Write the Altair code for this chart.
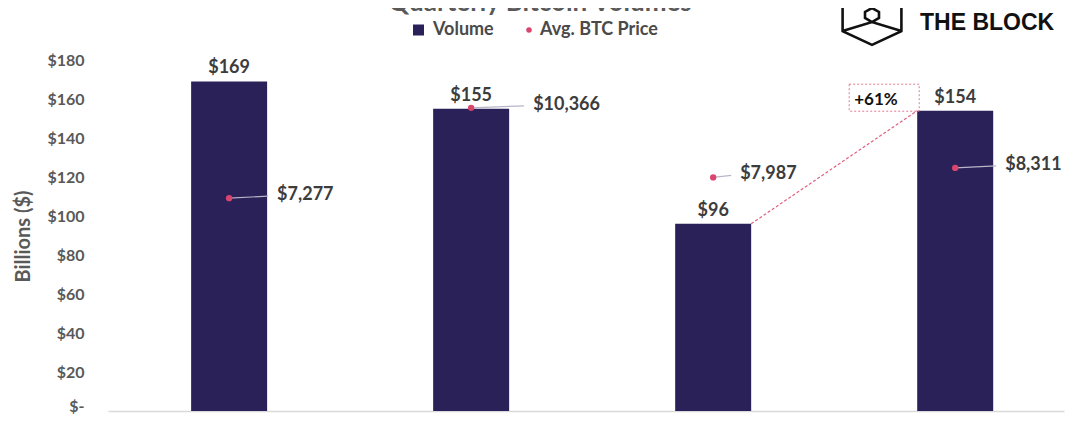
import altair as alt
import pandas as pd

# ---- data ----
quarters = ["Q2 2019", "Q3 2019", "Q4 2019", "Q1 2020"]
volumes = [169, 155, 96, 154]            # billions of $
prices = [7277, 10366, 7987, 8311]        # avg BTC price, $
volume_labels = ["$169", "$155", "$96", "$154"]
price_labels = ["$7,277", "$10,366", "$7,987", "$8,311"]
y_ticks = [0, 20, 40, 60, 80, 100, 120, 140, 160, 180]
change_label = "+61%"

# ---- layout of the price call-outs (pixel gap dot -> label) ----
label_gap = [48, 62, 27, 50]

NAVY = "#2a2158"
PINK = "#d9456c"
GREY = "#595959"
DARK = "#3c3c3c"
FONT = "Lato"

df = pd.DataFrame({
    "quarter": quarters,
    "volume": volumes,
    "price": prices,
    "vlabel": volume_labels,
    "plabel": price_labels,
})

xscale = alt.Scale(domain=quarters, paddingInner=0.686, paddingOuter=0.318, align=0.54)
XAXIS = alt.Axis(labels=False, ticks=False, title=None, grid=False,
                 domainColor="#d9d9d9", domainWidth=1.5)
X = alt.X("quarter:N", scale=xscale, sort=quarters, axis=XAXIS)
X2 = alt.X2("quarter")

vscale = alt.Scale(domain=[0, 180], nice=False, zero=True)
vaxis = alt.Axis(values=y_ticks, grid=False, ticks=False, domain=False,
                 labelExpr="datum.value == 0 ? '$-\u2007\u00a0' : '$' + datum.value",
                 labelOffset={"condition": {"test": "datum.value == 0", "value": -5}, "value": 0},
                 labelFont=FONT, labelFontSize=16, labelColor=GREY, labelPadding=24,
                 labelFontWeight="bold",
                 title="Billions ($)", titleFont=FONT, titleFontSize=20, titleColor=GREY,
                 titleFontWeight="bold", titleAngle=270, titleX=-85, titleY=176,
                 titleAlign="center", titleBaseline="middle")


def vy(field):
    return alt.Y(field, scale=vscale, axis=vaxis)


pscale = alt.Scale(domain=[0, 12000], nice=False, zero=True)


def py(field):
    return alt.Y(field, scale=pscale, axis=None)


base = alt.Chart(df)

bars = base.mark_bar(color=NAVY).encode(x=X, y=vy("volume:Q"))
bar_text = base.mark_text(dy=-13, baseline="middle", font=FONT, fontSize=18,
                          fontWeight="bold", color=DARK).encode(
    x=X, y=vy("volume:Q"), text="vlabel:N")

conn_df = pd.DataFrame({"q_from": [quarters[2]], "q_to": [quarters[3]],
                        "v_from": [volumes[2]], "v_to": [volumes[3]],
                        "lab": [change_label]})
connector = alt.Chart(conn_df).mark_rule(
    color="#e0607f", strokeDash=[3, 2], strokeWidth=1.2, xOffset=38, x2Offset=-38).encode(
    x=alt.X("q_from:N", scale=xscale, sort=quarters, axis=XAXIS),
    x2=alt.X2("q_to"),
    y=vy("v_from:Q"), y2=alt.Y2("v_to:Q"))

box_path = "M -1 -0.386 H 1 V 0.386 H -1 Z"
box = alt.Chart(conn_df).mark_point(
    shape=box_path, size=4900, filled=False, stroke="#e07a90", strokeWidth=1,
    strokeDash=[2, 2], xOffset=-71, yOffset=-13, opacity=1).encode(
    x=alt.X("q_to:N", scale=xscale, sort=quarters, axis=XAXIS),
    y=vy("v_to:Q"))
box_text = alt.Chart(conn_df).mark_text(
    align="left", baseline="middle", dx=-101, dy=-11, font=FONT, fontSize=17,
    fontWeight="bold", color="#111111").encode(
    x=alt.X("q_to:N", scale=xscale, sort=quarters, axis=XAXIS),
    y=vy("v_to:Q"), text="lab:N")

vol_layer = alt.layer(bars, bar_text, connector, box, box_text)

price_parts = []
for q, gap in zip(quarters, label_gap):
    sub = base.transform_filter(alt.datum.quarter == q)
    price_parts.append(sub.mark_rule(color="#b9b5c9", strokeWidth=1.2,
                                     x2Offset=gap - 9, y2Offset=-2).encode(
        x=X, x2=X2, y=py("price:Q"), y2=alt.Y2("price:Q")))
    price_parts.append(sub.mark_text(align="left", baseline="middle", dx=gap, dy=-3,
                                     font=FONT, fontSize=18, fontWeight="bold",
                                     color=DARK).encode(
        x=X, y=py("price:Q"), text="plabel:N"))
dots = base.mark_circle(color=PINK, size=40, opacity=1).encode(x=X, y=py("price:Q"))
price_layer = alt.layer(*price_parts, dots)

main = alt.layer(vol_layer, price_layer).resolve_scale(y="independent")

# ---- decorations: title, legend, logo ----
one = alt.Data(values=[{"a": 1}])
title = alt.Chart(one).mark_text(
    text="Quarterly Bitcoin Volumes", align="center", baseline="alphabetic",
    font=FONT, fontSize=26, fontWeight="bold", color=GREY).encode(
    x=alt.value(432), y=alt.value(-49))
leg_sq = alt.Chart(one).mark_square(color=NAVY, size=121, opacity=1).encode(
    x=alt.value(310.5), y=alt.value(-30))
leg_sq_t = alt.Chart(one).mark_text(
    text="Volume", align="left", baseline="middle", font=FONT, fontSize=18,
    fontWeight="bold", color="#4a4a4a").encode(x=alt.value(325), y=alt.value(-30))
leg_dot = alt.Chart(one).mark_circle(color=PINK, size=30, opacity=1).encode(
    x=alt.value(421), y=alt.value(-30))
leg_dot_t = alt.Chart(one).mark_text(
    text="Avg. BTC Price", align="left", baseline="middle", font=FONT, fontSize=18,
    fontWeight="bold", color="#4a4a4a").encode(x=alt.value(432), y=alt.value(-30))

logo_path = ("M -0.98 -1.1 L -0.98 0.17 L 0 0.63 L 0.98 0.17 L 0.98 -1.1 "
             "M -0.98 0.17 L 0 -0.13 L 0.98 0.17 "
             "M 0 -0.6 L 0.233 -0.467 L 0.233 -0.267 L 0 -0.133 L -0.233 -0.267 "
             "L -0.233 -0.467 Z")
logo = alt.Chart(one).mark_point(
    shape=logo_path, size=3600, filled=False, stroke="#111111", strokeWidth=2.6,
    opacity=1).encode(x=alt.value(764), y=alt.value(-34))
logo_t = alt.Chart(one).mark_text(
    text="THE BLOCK", align="left", baseline="alphabetic", font="Liberation Sans",
    fontSize=23, fontWeight="bold", color="#111111").encode(
    x=alt.value(812), y=alt.value(-30))

chart = alt.layer(main, title, leg_sq, leg_sq_t, leg_dot, leg_dot_t, logo, logo_t).properties(
    width=956, height=351,
    padding={"left": 100, "top": 52, "right": 8, "bottom": 4},
    autosize=alt.AutoSizeParams(type="none"),
).configure_view(stroke=None)

chart.save("out.html", embed_options={"renderer": "svg", "actions": False})
